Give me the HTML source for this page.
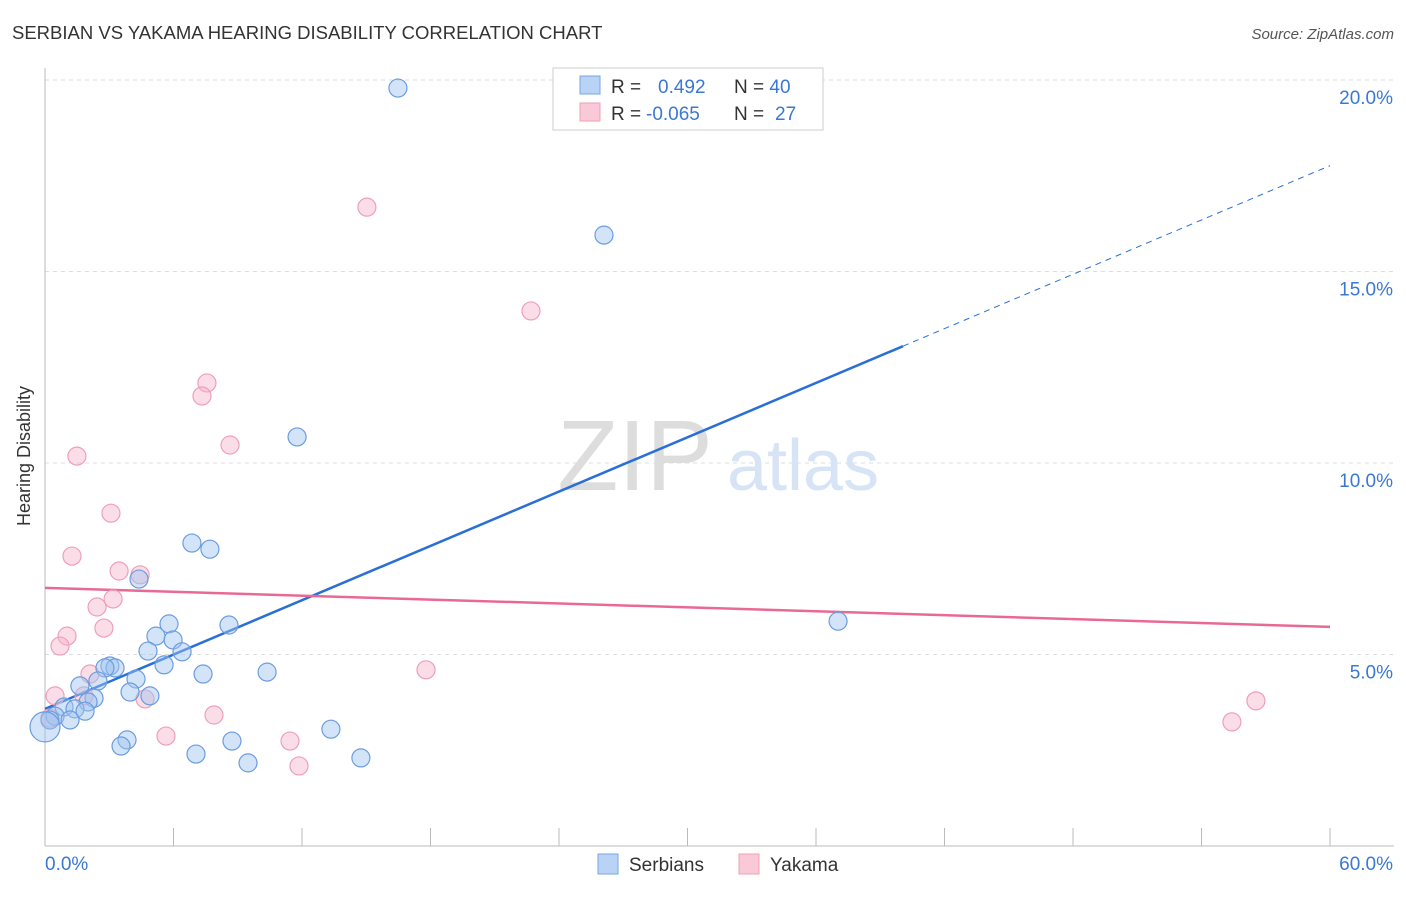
<!DOCTYPE html>
<html><head><meta charset="utf-8"><style>
body{margin:0;background:#fff;font-family:"Liberation Sans",sans-serif;}
svg text{font-family:"Liberation Sans",sans-serif;}
</style></head><body>
<svg width="1406" height="892" viewBox="0 0 1406 892">
<text x="12" y="39" font-size="18.5" fill="#333">SERBIAN VS YAKAMA HEARING DISABILITY CORRELATION CHART</text>
<text x="1394" y="39" font-size="15" fill="#555" font-style="italic" text-anchor="end">Source: ZipAtlas.com</text>
<text x="30" y="456" font-size="18" fill="#333" text-anchor="middle" transform="rotate(-90 30 456)">Hearing Disability</text>
<g id="grid"></g>
<g id="axes"></g>
<text x="635" y="490" font-size="100" fill="#ddd" font-family="Liberation Serif" text-anchor="middle">ZIP</text>
<text x="803" y="490" font-size="72" fill="#d6e4f5" text-anchor="middle">atlas</text>
<g id="lines"></g>
<g id="pts"></g>
<g>
<rect x="553" y="68" width="270" height="62" fill="#fff" stroke="#ccc"/>
<rect x="580" y="76" width="20" height="18" fill="#b8d3f5" stroke="#7aa7e0"/>
<rect x="580" y="103" width="20" height="18" fill="#f9c9d8" stroke="#eea0b8"/>
<text x="611" y="93" font-size="19" fill="#333">R = <tspan fill="#3a78d4" x="658">0.492</tspan><tspan x="734" fill="#333">N = </tspan><tspan fill="#3a78d4">40</tspan></text>
<text x="611" y="120" font-size="19" fill="#333">R = <tspan fill="#3a78d4" x="646">-0.065</tspan><tspan x="734" fill="#333">N = </tspan><tspan fill="#3a78d4" x="775">27</tspan></text>
</g>
<g>
<rect x="598" y="854" width="20" height="20" fill="#b8d3f5" stroke="#7aa7e0"/>
<text x="629" y="871" font-size="19" fill="#333">Serbians</text>
<rect x="739" y="854" width="20" height="20" fill="#f9c9d8" stroke="#eea0b8"/>
<text x="770" y="871" font-size="19" fill="#333">Yakama</text>
</g>
</svg>
<script>
const blueX=[16.48,26.10,11.77,37.03,6.86,7.70,4.39,5.79,8.59,5.18,5.98,4.81,6.40,5.56,3.03,3.27,2.80,7.38,10.37,4.25,1.63,2.47,3.97,4.90,2.29,2.01,0.89,1.40,1.87,0.47,1.17,0.23,0,3.83,3.55,8.73,13.35,7.05,9.48,14.75];
const blueY=[19.79,15.95,10.68,5.87,7.91,7.75,6.97,5.80,5.77,5.48,5.38,5.09,5.07,4.73,4.70,4.65,4.65,4.49,4.54,4.36,4.18,4.31,4.02,3.92,3.86,3.76,3.63,3.58,3.52,3.39,3.29,3.29,3.11,2.77,2.61,2.74,3.05,2.40,2.17,2.30];
const pinkX=[15.03,22.69,7.56,7.33,8.64,1.49,3.08,1.26,3.46,4.44,2.43,3.18,2.75,1.03,0.70,2.10,0.47,1.82,4.67,17.79,7.89,5.65,11.44,11.86,56.54,55.42,0.23];
const pinkY=[16.68,13.97,12.09,11.75,10.47,10.18,8.69,7.57,7.18,7.08,6.24,6.45,5.69,5.48,5.22,4.49,3.92,3.92,3.84,4.60,3.42,2.87,2.74,2.09,3.79,3.24,3.34];
const yTicks=[5,10,15,20];
const yTickLabels=["5.0%","10.0%","15.0%","20.0%"];
const xTicks=[0,6,12,18,24,30,36,42,48,54,60];
const blueTrend=[3.58,0.2364];
const pinkTrend=[6.74,-0.017];
const NS='http://www.w3.org/2000/svg';
const sx=v=>45+v*21.417, sy=v=>846-v*38.3;
function mk(t,a,p){const e=document.createElementNS(NS,t);for(const k in a)e.setAttribute(k,a[k]);document.getElementById(p).appendChild(e);return e;}
yTicks.forEach((v,i)=>{
 const l=mk('line',{x1:45,x2:1394,y1:sy(v),y2:sy(v),stroke:'#ddd','stroke-dasharray':'4,4'},'grid');
 
 
 const t=mk('text',{x:1393,y:sy(v)+24,'font-size':19,fill:'#3a78d4','text-anchor':'end'},'grid');
 t.textContent=yTickLabels[i];
 
 
});
const ax=mk('line',{x1:45,x2:45,y1:68,y2:846,stroke:'#bbb'},'axes');


const bx=mk('line',{x1:45,x2:1394,y1:846,y2:846,stroke:'#bbb'},'axes');


xTicks.forEach(v=>{
 const l=mk('line',{x1:sx(v),x2:sx(v),y1:828,y2:846,stroke:'#bbb'},'axes');
 
 
});
[[0,'0.0%','start',45],[60,'60.0%','end',1393]].forEach(a=>{
 const t=mk('text',{x:a[3],y:870,'font-size':19,fill:'#3a78d4','text-anchor':a[2]},'axes');
 t.textContent=a[1];
 
 
});
const bt=x=>blueTrend[0]+blueTrend[1]*x, pt=x=>pinkTrend[0]+pinkTrend[1]*x;
let l1=mk('line',{x1:sx(0),y1:sy(bt(0)),x2:sx(40.06),y2:sy(bt(40.06)),stroke:'#2a6fd6','stroke-width':2.5},'lines');


let l2=mk('line',{x1:sx(40.06),y1:sy(bt(40.06)),x2:sx(60),y2:sy(bt(60)),stroke:'#2a6fd6','stroke-width':1,'stroke-dasharray':'6,5'},'lines');


let l3=mk('line',{x1:sx(0),y1:sy(pt(0)),x2:sx(60),y2:sy(pt(60)),stroke:'#e86a94','stroke-width':2.5},'lines');


pinkX.forEach((x,i)=>{
 const c=mk('circle',{cx:sx(x),cy:sy(pinkY[i]),r:9,fill:'rgba(246,180,201,0.45)',stroke:'#eea0b8','stroke-width':1.2},'pts');
 
 
});
blueX.forEach((x,i)=>{
 const c=mk('circle',{cx:sx(x),cy:sy(blueY[i]),r:i==32?15:9,fill:'rgba(160,196,240,0.45)',stroke:'#6a9de0','stroke-width':1.2},'pts');
 
 
});
</script>
</body></html>
